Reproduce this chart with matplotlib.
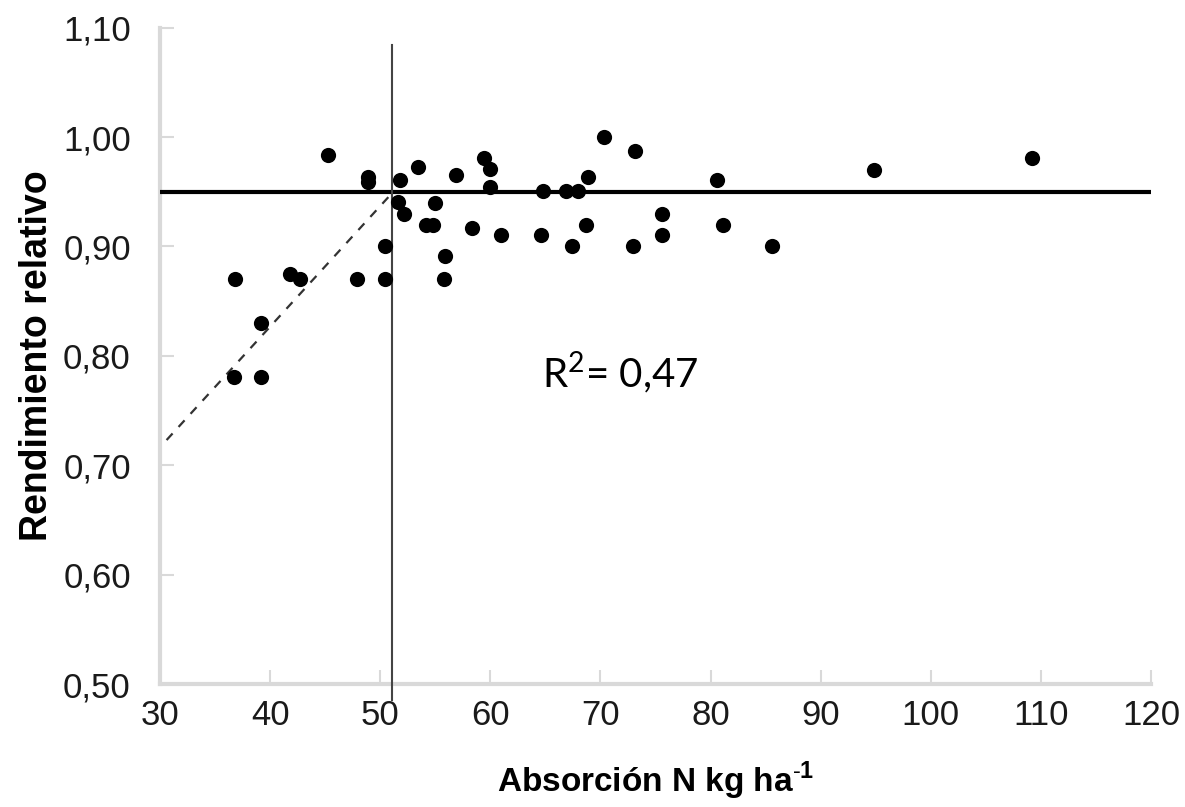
import matplotlib
matplotlib.use("Agg")
import matplotlib.pyplot as plt

plt.rcParams["mathtext.fontset"] = "custom"
plt.rcParams["mathtext.rm"] = "Liberation Sans"
plt.rcParams["mathtext.bf"] = "Liberation Sans:bold"

# N uptake (kg/ha) and relative yield for each site
absorcion_n = [36.8, 36.7, 39.2, 39.2, 41.8, 42.7, 45.3, 47.9, 48.9, 48.9,
               50.4, 50.4, 51.8, 51.6, 52.2, 53.4, 54.2, 54.8, 55.0, 55.9,
               55.8, 56.9, 58.3, 59.4, 60.0, 60.0, 61.0, 64.75, 64.6, 66.9,
               68.0, 67.4, 68.9, 68.7, 70.3, 73.1, 73.0, 75.6, 75.6, 80.6,
               81.1, 85.6, 94.8, 109.2]
rendimiento = [0.870, 0.781, 0.830, 0.781, 0.875, 0.870, 0.984, 0.870, 0.963, 0.959,
               0.900, 0.870, 0.961, 0.941, 0.930, 0.973, 0.920, 0.920, 0.940, 0.891,
               0.870, 0.965, 0.917, 0.981, 0.971, 0.954, 0.910, 0.951, 0.910, 0.951,
               0.951, 0.900, 0.963, 0.920, 1.000, 0.987, 0.900, 0.930, 0.910, 0.961,
               0.920, 0.900, 0.970, 0.981]

# Linear-plateau model: rising segment up to the critical uptake, then plateau
umbral_x = 51.1
plateau = 0.95
rampa_x = [30.6, 51.1]
rampa_y = [0.723, 0.949]

x_ticks = [30, 40, 50, 60, 70, 80, 90, 100, 110, 120]
y_ticks = [0.50, 0.60, 0.70, 0.80, 0.90, 1.00, 1.10]

fig = plt.figure(figsize=(11.85, 8.07), dpi=100)
ax = fig.add_axes([0.135, 0.1524, 0.8363, 0.8134])

ax.set_xlim(30, 120)
ax.set_ylim(0.50, 1.10)

ax.scatter(absorcion_n, rendimiento, s=120, color="black", zorder=4, linewidths=0)

ax.axhline(plateau, color="black", lw=3, zorder=3)
ax.plot(rampa_x, rampa_y, color="#333333", lw=1.6, ls=(0, (4, 4)), zorder=3)
ax.plot([umbral_x, umbral_x], [0.4854, 1.084], color="#444444", lw=1.5,
        clip_on=False, zorder=3)

ax.text(64.7, 0.784, "R$^{\\mathregular{2}}$= 0,47", fontsize=29,
        family="Lato", ha="left", va="center")

for side in ("top", "right"):
    ax.spines[side].set_visible(False)
for side in ("left", "bottom"):
    ax.spines[side].set_color("#d9d9d9")
    ax.spines[side].set_linewidth(3)

ax.set_xticks(x_ticks)
ax.set_yticks(y_ticks)
ax.set_yticklabels([f"{v:.2f}".replace(".", ",") for v in y_ticks])
ax.set_xticklabels([str(v) for v in x_ticks])
ax.tick_params(axis="both", direction="in", length=10, width=1.5, color="#d9d9d9",
               labelsize=25, labelcolor="#1a1a1a")
ax.tick_params(axis="x", pad=11)
ax.tick_params(axis="y", pad=21)
for lab in ax.get_xticklabels() + ax.get_yticklabels():
    lab.set_family("Liberation Sans")

ax.set_xlabel("Absorción N kg ha$^{\\mathbf{\\text{-}1}}$", fontsize=24,
              fontweight="bold", family="Liberation Sans", labelpad=20)
ax.set_ylabel("Rendimiento relativo", fontsize=27, fontweight="bold",
              family="Liberation Sans", labelpad=6)

fig.savefig("out.png", dpi=100, facecolor="white")
